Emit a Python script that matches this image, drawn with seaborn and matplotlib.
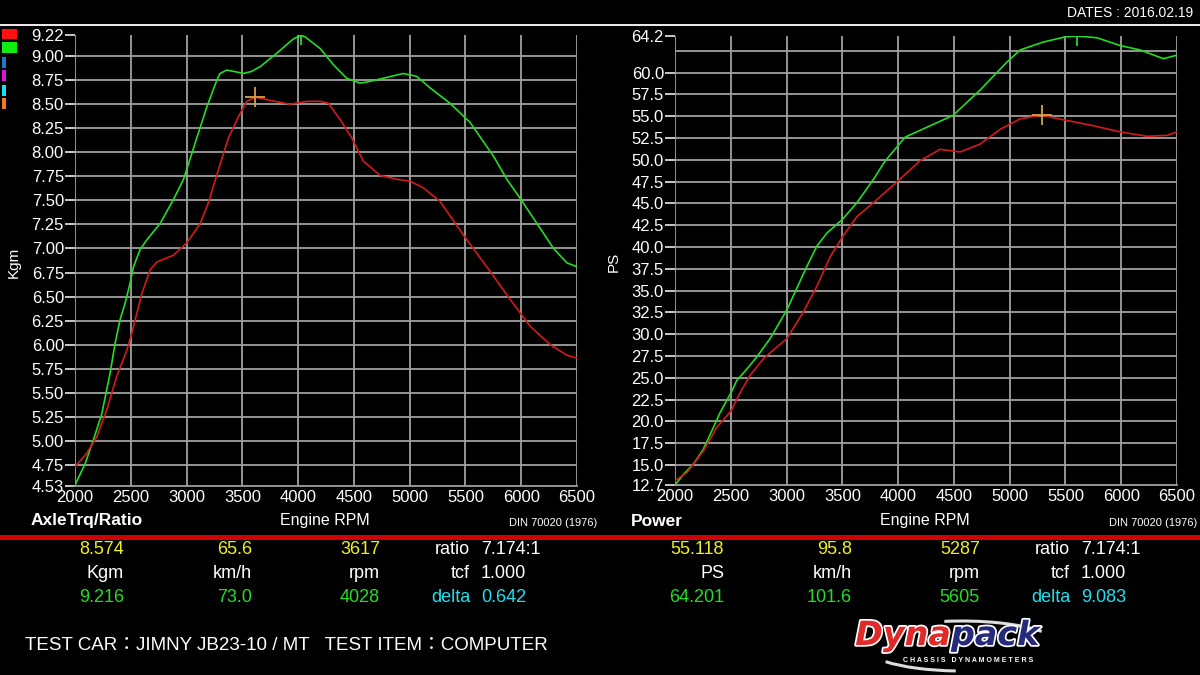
import matplotlib
matplotlib.use('Agg')
import matplotlib.pyplot as plt
import matplotlib.patheffects as pe
from matplotlib.patches import Rectangle, Arc
import seaborn as sns

# ---- data ----
trq_green_rpm = [2000, 2090, 2165, 2240, 2314, 2359, 2404, 2449, 2494, 2524, 2584, 2644, 2763, 2883,
                 2973, 3092, 3181, 3271, 3300, 3360, 3430, 3509, 3580, 3659, 3808, 3958, 4028, 4063,
                 4197, 4317, 4436, 4556, 4614, 4763, 4943, 5063, 5183, 5362, 5542, 5751, 5871, 5997,
                 6141, 6290, 6410, 6500]
trq_green = [4.54, 4.76, 5.01, 5.28, 5.70, 6.01, 6.26, 6.43, 6.64, 6.81, 6.99, 7.09, 7.26, 7.51,
             7.72, 8.15, 8.47, 8.75, 8.82, 8.855, 8.84, 8.82, 8.84, 8.89, 9.03, 9.18, 9.216, 9.20,
             9.08, 8.91, 8.77, 8.72, 8.73, 8.77, 8.82, 8.79, 8.67, 8.51, 8.31, 7.96, 7.72, 7.51,
             7.26, 7.00, 6.85, 6.81]
trq_red_rpm = [2000, 2105, 2195, 2284, 2374, 2464, 2509, 2599, 2674, 2734, 2883, 3003, 3123, 3197,
               3257, 3375, 3465, 3540, 3617, 3749, 3928, 4078, 4197, 4272, 4377, 4481, 4584, 4734,
               4883, 5003, 5123, 5272, 5482, 5722, 5901, 6081, 6260, 6410, 6500]
trq_red = [4.73, 4.87, 5.04, 5.32, 5.67, 5.94, 6.12, 6.53, 6.78, 6.86, 6.93, 7.06, 7.26, 7.48,
           7.71, 8.15, 8.37, 8.53, 8.574, 8.54, 8.50, 8.53, 8.53, 8.51, 8.34, 8.15, 7.91, 7.76,
           7.72, 7.70, 7.63, 7.49, 7.14, 6.76, 6.47, 6.19, 6.00, 5.89, 5.86]

pwr_green_rpm = [2000, 2075, 2165, 2254, 2344, 2404, 2464, 2503, 2554, 2644, 2734, 2853, 3003, 3093,
                 3183, 3272, 3362, 3503, 3632, 3781, 3880, 4063, 4287, 4493, 4735, 4975, 5094, 5300,
                 5498, 5605, 5782, 5991, 6170, 6377, 6500]
pwr_green = [12.7, 13.9, 15.1, 16.8, 19.3, 21.0, 22.4, 23.3, 24.7, 26.0, 27.4, 29.5, 32.8, 35.3,
             37.8, 40.1, 41.6, 43.2, 45.1, 47.8, 49.8, 52.6, 53.9, 55.1, 58.0, 61.2, 62.6, 63.5,
             64.1, 64.2, 64.0, 63.1, 62.6, 61.6, 62.0]
pwr_red_rpm = [2000, 2105, 2165, 2254, 2374, 2503, 2584, 2674, 2793, 3003, 3153, 3272, 3392, 3503,
               3632, 3781, 3931, 4018, 4197, 4377, 4556, 4735, 4915, 5094, 5287, 5439, 5753, 5991,
               6230, 6410, 6500]
pwr_red = [13.2, 14.1, 15.1, 16.6, 19.3, 21.2, 23.3, 25.3, 27.2, 29.5, 32.6, 35.5, 38.9, 41.2,
           43.5, 45.1, 46.8, 47.8, 49.9, 51.2, 50.9, 51.8, 53.5, 54.7, 55.118, 54.7, 53.9, 53.2,
           52.7, 52.8, 53.2]

rpm_ticks = [2000, 2500, 3000, 3500, 4000, 4500, 5000, 5500, 6000, 6500]
trq_ticks = [4.53, 4.75, 5.0, 5.25, 5.5, 5.75, 6.0, 6.25, 6.5, 6.75, 7.0, 7.25, 7.5, 7.75, 8.0,
             8.25, 8.5, 8.75, 9.0, 9.22]
pwr_ticks = [12.7, 15.0, 17.5, 20.0, 22.5, 25.0, 27.5, 30.0, 32.5, 35.0, 37.5, 40.0, 42.5, 45.0,
             47.5, 50.0, 52.5, 55.0, 57.5, 60.0, 64.2]
pwr_grid = [15.0, 17.5, 20.0, 22.5, 25.0, 27.5, 30.0, 32.5, 35.0, 37.5, 40.0, 42.5, 45.0, 47.5,
            50.0, 52.5, 55.0, 57.5, 60.0, 62.5]

trq_marker = (3617, 8.574)
trq_peak = (4028, 9.216)
pwr_marker = (5287, 55.118)
pwr_peak = (5605, 64.201)

trq_info = [['8.574', '65.6', '3617', 'ratio', '7.174:1'],
            ['Kgm', 'km/h', 'rpm', 'tcf', '1.000'],
            ['9.216', '73.0', '4028', 'delta', '0.642']]
pwr_info = [['55.118', '95.8', '5287', 'ratio', '7.174:1'],
            ['PS', 'km/h', 'rpm', 'tcf', '1.000'],
            ['64.201', '101.6', '5605', 'delta', '9.083']]

GREEN = '#22dd22'
RED = '#d41a1a'
GRID = '#a0a0a0'

sns.set_theme(style='dark')
plt.rcParams['font.family'] = ['Liberation Sans', 'DejaVu Sans']

fig = plt.figure(figsize=(12, 6.75), dpi=100, facecolor='black')
H = 675.0


def fy(px):
    return 1 - px / H


def setup(ax, yticks, ylabels, grid_y, ylim):
    ax.set_facecolor('black')
    ax.set_xlim(2000, 6500)
    ax.set_ylim(*ylim)
    ax.set_xticks(rpm_ticks)
    ax.set_xticklabels([str(t) for t in rpm_ticks])
    ax.yaxis.remove_overlapping_locs = False
    ax.set_yticks(yticks)
    ax.set_yticklabels(ylabels)
    ax.set_yticks(grid_y, minor=True)
    ax.tick_params(axis='x', length=0, pad=3, labelsize=12, labelcolor='white')
    ax.tick_params(axis='y', which='major', left=True, direction='out', length=7, width=1.4,
                   color='#c8c8c8', pad=1, labelsize=12, labelcolor='white')
    ax.tick_params(axis='y', which='minor', left=False, length=0)
    ax.grid(False)
    ax.xaxis.grid(True, which='major', color=GRID, lw=1.3)
    ax.yaxis.grid(True, which='minor', color=GRID, lw=1.3)
    for s in ['top', 'right', 'left']:
        ax.spines[s].set_visible(False)
    ax.spines['bottom'].set_color(GRID)
    ax.spines['bottom'].set_linewidth(1.3)
    ax.set_xlabel('')
    ax.set_ylabel('')


# ---- torque panel ----
ax1 = fig.add_axes([75 / 1200, fy(486), 502 / 1200, 451 / H])
sns.lineplot(x=trq_green_rpm, y=trq_green, ax=ax1, color=GREEN, lw=1.2)
sns.lineplot(x=trq_red_rpm, y=trq_red, ax=ax1, color=RED, lw=1.2)
ax1.plot(*trq_marker, marker='+', color='#d8a040', ms=14, mew=1.3, zorder=5)
ax1.plot(*trq_peak, marker=3, color=GREEN, ms=7, mew=1.3, zorder=5)
setup(ax1, trq_ticks, ['%.2f' % t for t in trq_ticks],
      [t for t in trq_ticks if 4.6 < t < 9.1], (4.53, 9.22))

# ---- power panel ----
ax2 = fig.add_axes([675 / 1200, fy(485), 502 / 1200, 449 / H])
sns.lineplot(x=pwr_green_rpm, y=pwr_green, ax=ax2, color=GREEN, lw=1.2)
sns.lineplot(x=pwr_red_rpm, y=pwr_red, ax=ax2, color=RED, lw=1.2)
ax2.plot(*pwr_marker, marker='+', color='#d8a040', ms=14, mew=1.3, zorder=5)
ax2.plot(*pwr_peak, marker=3, color=GREEN, ms=7, mew=1.3, zorder=5)
setup(ax2, pwr_ticks, ['%.1f' % t for t in pwr_ticks], pwr_grid, (12.7, 64.2))

# ---- frame decorations ----
fig.add_artist(Rectangle((0, fy(26)), 1, 2 / H, transform=fig.transFigure,
                         color='#e8e8e8', lw=0))
fig.add_artist(Rectangle((0, fy(540)), 1, 5 / H, transform=fig.transFigure,
                         color='#d20000', lw=0))
fig.text(1193 / 1200, fy(13), 'DATES : 2016.02.19', color='white', fontsize=10,
         ha='right', va='center')

# run colour swatches
swatches = [('#ff1010', 2, 29, 15, 10), ('#10ee10', 2, 42, 15, 11), ('#1a7cc8', 2, 57, 4, 11),
            ('#e010e0', 2, 70, 4, 11), ('#10e8f0', 2, 85, 4, 11), ('#f07a20', 2, 98, 4, 11)]
for c, x, y, w, h in swatches:
    fig.add_artist(Rectangle((x / 1200, fy(y + h)), w / 1200, h / H,
                             transform=fig.transFigure, color=c, lw=0))

fig.text(14 / 1200, fy(262), 'Kgm', color='white', fontsize=11, rotation=90,
         ha='center', va='center')
fig.text(614 / 1200, fy(262), 'PS', color='white', fontsize=11, rotation=90,
         ha='center', va='center')

for off, title in [(0, 'AxleTrq/Ratio'), (600, 'Power')]:
    fig.text((off + 31) / 1200, fy(521), title, color='white', fontsize=12.5,
             fontweight='bold', ha='left', va='center')
    fig.text((off + 325) / 1200, fy(521), 'Engine RPM', color='white', fontsize=11.5,
             ha='center', va='center')
    fig.text((off + 597) / 1200, fy(523), 'DIN 70020 (1976)', color='white', fontsize=8,
             ha='right', va='center')

# ---- readout block ----
row_y = [550, 574, 598]
row_col = [['#f0f020'] * 3 + ['white', 'white'],
           ['white'] * 5,
           [GREEN] * 3 + ['#20e0f0', '#20e0f0']]
col_x = [124, 252, 380, 470, 481]
col_ha = ['right', 'right', 'right', 'right', 'left']
for off, info in [(0, trq_info), (600, pwr_info)]:
    for r, row in enumerate(info):
        for c, txt in enumerate(row):
            fig.text((off + col_x[c]) / 1200, fy(row_y[r]), txt, color=row_col[r][c],
                     fontsize=13, ha=col_ha[c], va='center')

fig.text(25 / 1200, fy(645), 'TEST CAR：JIMNY JB23-10 / MT   TEST ITEM：COMPUTER',
         color='white', fontsize=13.5, ha='left', va='center',
         family=['Liberation Sans', 'Noto Sans CJK JP'])

# ---- Dynapack logo ----
fig.add_artist(Arc((962 / 1200, fy(646)), 196 / 1200, 50 / H, theta1=18, theta2=112,
                   transform=fig.transFigure, color='#dddddd', lw=2.2))
fig.add_artist(Arc((962 / 1200, fy(646)), 196 / 1200, 50 / H, theta1=200, theta2=262,
                   transform=fig.transFigure, color='#dddddd', lw=2.2))
stroke = [pe.withStroke(linewidth=2.5, foreground='white')]
fig.text(951 / 1200, fy(645), 'Dyna', color='#e02a2a', fontsize=24, fontweight='heavy',
         fontstyle='italic', family='DejaVu Sans', ha='right', va='baseline',
         path_effects=stroke)
fig.text(951 / 1200, fy(645), 'pack', color='#262a7a', fontsize=24, fontweight='heavy',
         fontstyle='italic', family='DejaVu Sans', ha='left', va='baseline',
         path_effects=stroke)
fig.text(968 / 1200, fy(660), 'C H A S S I S   D Y N A M O M E T E R S', color='white',
         fontsize=5, fontweight='bold', ha='center', va='center')

plt.savefig('out.png', dpi=100, facecolor='black')
